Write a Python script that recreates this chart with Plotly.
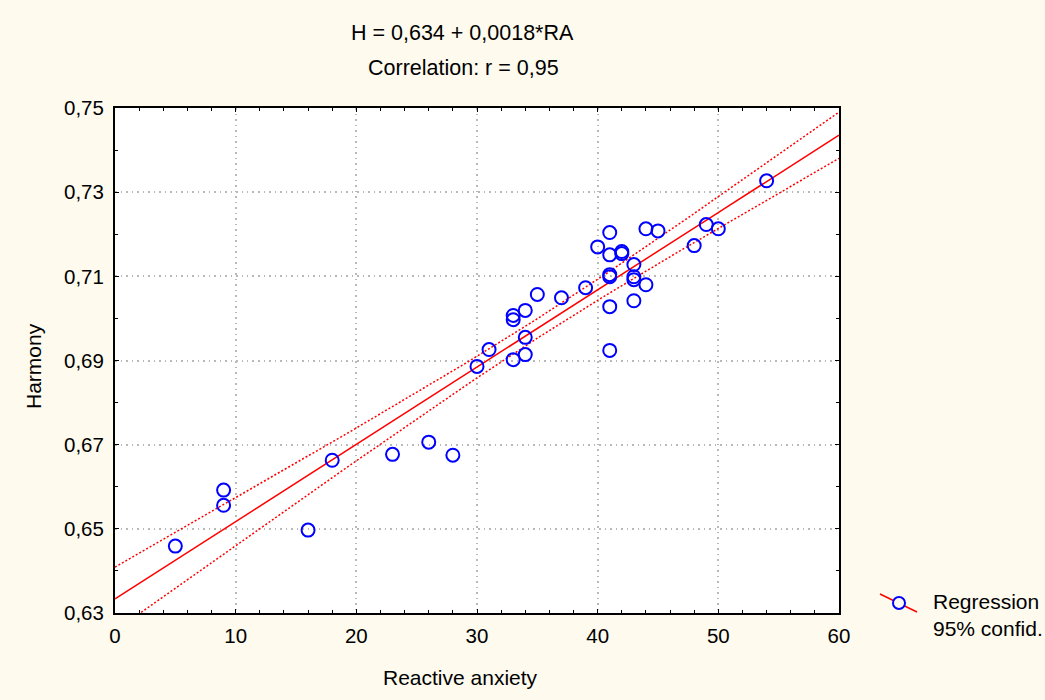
import numpy as np
import plotly.graph_objects as go

# Data
reactive_anxiety = [5, 9, 9, 16, 18, 23, 26, 28, 30, 31, 33, 33, 33, 34, 34, 34, 35, 37, 39, 40,
                    41, 41, 41, 41, 41, 41, 42, 42, 43, 43, 43, 43, 44, 44, 45, 48, 49, 50, 54]
harmony = [0.6459, 0.6592, 0.6556, 0.6497, 0.6663, 0.6677, 0.6706, 0.6675, 0.6886, 0.6926,
           0.6902, 0.7007, 0.6997, 0.6955, 0.6914, 0.7019, 0.7057, 0.7049, 0.7073, 0.7170,
           0.7204, 0.7151, 0.7104, 0.7099, 0.7028, 0.6924, 0.7159, 0.7154, 0.7128, 0.7099,
           0.7092, 0.7042, 0.7080, 0.7213, 0.7208, 0.7173, 0.7223, 0.7213, 0.7327]
x_ticks = [0, 10, 20, 30, 40, 50, 60]
y_ticks = [0.63, 0.65, 0.67, 0.69, 0.71, 0.73, 0.75]
eq_text = "H = 0,634 + 0,0018*RA"
r_text = "Correlation: r = 0,95"
t_crit = 2.026  # t(0.975, df=37)

x = np.array(reactive_anxiety, dtype=float)
y = np.array(harmony, dtype=float)
n = len(x)
slope, intercept = np.polyfit(x, y, 1)
resid = y - (intercept + slope * x)
s = np.sqrt(np.sum(resid ** 2) / (n - 2))
sxx = np.sum((x - x.mean()) ** 2)
xs = np.linspace(0, 60, 241)
fit = intercept + slope * xs
half = t_crit * s * np.sqrt(1.0 / n + (xs - x.mean()) ** 2 / sxx)

FONT = "Liberation Sans, Arial, sans-serif"
FS = 20.5
RED = "#ff0000"
BLUE = "#0000ff"
BG = "#fefaee"

fig = go.Figure()
fig.add_trace(go.Scatter(x=xs, y=fit + half, mode="lines",
                         line=dict(color=RED, width=1.5, dash="2px,2px"), hoverinfo="skip"))
fig.add_trace(go.Scatter(x=xs, y=fit - half, mode="lines",
                         line=dict(color=RED, width=1.5, dash="2px,2px"), hoverinfo="skip"))
fig.add_trace(go.Scatter(x=xs, y=fit, mode="lines",
                         line=dict(color=RED, width=1.5), hoverinfo="skip"))
fig.add_trace(go.Scatter(x=reactive_anxiety, y=harmony, mode="markers",
                         marker=dict(symbol="circle-open", size=13, color=BLUE,
                                     line=dict(color=BLUE, width=2))))

W, H = 1045, 700
L, R, T, B = 115, 206, 108, 87
pw, ph = W - L - R, H - T - B

def px(xp):
    return (xp - L) / pw

def py(yp):
    return (H - B - yp) / ph

axis_common = dict(
    showline=True, linecolor="black", linewidth=2, mirror="ticks",
    ticks="inside", ticklen=4, tickwidth=1, tickcolor="black",
    showgrid=True, gridcolor="#b8b8b8", gridwidth=1.5, griddash="1.5px,4px",
    zeroline=False, tickfont=dict(family=FONT, size=FS, color="black"),
)

fig.update_xaxes(range=[0, 60], tickvals=x_ticks, ticktext=[str(v) for v in x_ticks],
                 ticklabelstandoff=3,
                 minor=dict(dtick=2, tick0=0, ticks="inside", ticklen=3, tickcolor="black", showgrid=False),
                 **axis_common)
fig.update_yaxes(range=[0.63, 0.75], tickvals=y_ticks,
                 ticktext=[f"{v:.2f}".replace(".", ",") for v in y_ticks],
                 ticklabelstandoff=5,
                 minor=dict(dtick=0.01, tick0=0.63, ticks="inside", ticklen=3, tickcolor="black", showgrid=False),
                 **axis_common)

annotations = [
    dict(text=eq_text, x=px(462), y=py(33), xref="paper", yref="paper",
         showarrow=False, xanchor="center", yanchor="middle", font=dict(family=FONT, size=21.5, color="black")),
    dict(text=r_text, x=px(463), y=py(68), xref="paper", yref="paper",
         showarrow=False, xanchor="center", yanchor="middle", font=dict(family=FONT, size=21.5, color="black")),
    dict(text="Reactive anxiety", x=px(460), y=py(677), xref="paper", yref="paper",
         showarrow=False, xanchor="center", yanchor="middle", font=dict(family=FONT, size=21, color="black")),
    dict(text="Harmony", x=px(33), y=py(366), xref="paper", yref="paper", textangle=-90,
         showarrow=False, xanchor="center", yanchor="middle", font=dict(family=FONT, size=21, color="black")),
    dict(text="Regression<br>95% confid.", x=px(931), y=py(615), xref="paper", yref="paper",
         showarrow=False, xanchor="left", yanchor="middle", align="left",
         font=dict(family=FONT, size=21, color="black")),
]

shapes = [
    dict(type="line", xref="paper", yref="paper", x0=px(880), y0=py(594), x1=px(917), y1=py(612),
         line=dict(color=RED, width=1.5)),
    dict(type="circle", xref="paper", yref="paper", xsizemode="pixel", ysizemode="pixel",
         xanchor=px(899), yanchor=py(603), x0=-6, x1=6, y0=-6, y1=6,
         line=dict(color=BLUE, width=2), fillcolor=BG),
]

fig.update_layout(
    width=W, height=H, margin=dict(l=L, r=R, t=T, b=B),
    paper_bgcolor=BG, plot_bgcolor="white",
    showlegend=False, annotations=annotations, shapes=shapes,
    font=dict(family=FONT, size=FS, color="black"),
)

fig.write_html("out.html")
